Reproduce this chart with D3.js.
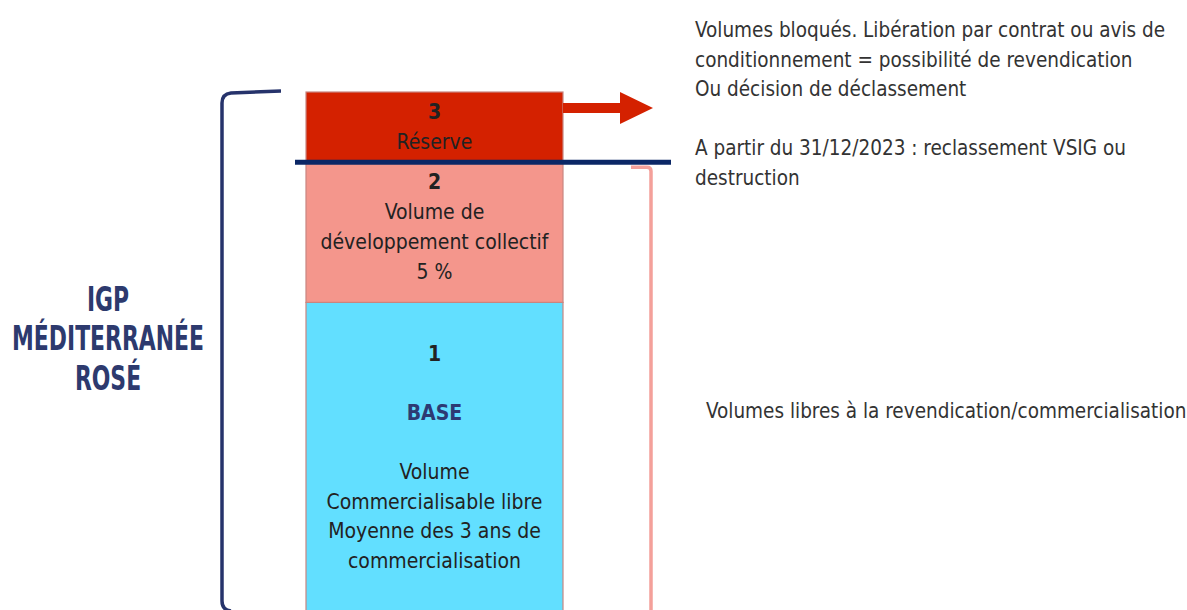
<!DOCTYPE html>
<html>
<head>
<meta charset="utf-8">
<script src="https://cdn.jsdelivr.net/npm/d3@7"></script>
<style>
  body { margin: 0; background: #fff; }
  svg { display: block; }
  text { font-family: "Liberation Sans Narrow", "DejaVu Sans Condensed", Roboto, sans-serif; }
</style>
</head>
<body>
<div id="chart"></div>
<script>
// segments of the stacked bar, bottom to top
const segments = ["Base", "Développement", "Réserve"];
const segmentValues = [310, 140, 70];
const segmentColors = ["#62dfff", "#f4968c", "#d42100"];

const segmentLabels = [
    [{ t: "1", bold: true }, { t: "" }, { t: "BASE", bold: true, navy: true }, { t: "" },
     { t: "Volume" }, { t: "Commercialisable libre" }, { t: "Moyenne des 3 ans de" }, { t: "commercialisation" }],
    [{ t: "2", bold: true }, { t: "Volume de" }, { t: "développement collectif" }, { t: "5 %" }],
    [{ t: "3", bold: true }, { t: "Réserve" }]
];

const titleLines = ["IGP", "MÉDITERRANÉE", "ROSÉ"];
const reserveNotes = ["Volumes bloqués. Libération par contrat ou avis de",
    "conditionnement = possibilité de revendication",
    "Ou décision de déclassement",
    "",
    "A partir du 31/12/2023 : reclassement VSIG ou",
    "destruction"];
const freeNote = "Volumes libres à la revendication/commercialisation";

render();

function render() {
    const width = 1187, height = 610;
    const svg = d3.select("#chart").append("svg")
        .attr("width", width)
        .attr("height", height);

    const stack = [];
    let acc = 0;
    segmentValues.forEach((v, i) => {
        stack.push({ name: segments[i], y0: acc, y1: acc + v, color: segmentColors[i], lines: segmentLabels[i] });
        acc += v;
    });

    const y = d3.scaleLinear().domain([0, acc]).range([613, 92]);
    const x = d3.scaleBand().domain(["bar"]).range([306, 563]).padding(0);
    const bx = x("bar"), bw = x.bandwidth();

    // bar segments
    svg.selectAll("rect.seg")
        .data(stack)
        .join("rect")
        .attr("class", "seg")
        .attr("x", bx)
        .attr("y", d => y(d.y1))
        .attr("width", bw)
        .attr("height", d => y(d.y0) - y(d.y1))
        .attr("fill", d => d.color)
        .attr("stroke", "#c98580")
        .attr("stroke-width", 1.2);

    // labels in segments
    const lineH = 30;
    stack.forEach((d, i) => {
        let top;
        if (i === 0) top = y(d.y1) + 52;
        else top = y(d.y1) + 20;
        const t = svg.append("text")
            .attr("text-anchor", "middle")
            .attr("font-size", 21)
            .attr("fill", "#222");
        d.lines.forEach((l, j) => {
            t.append("tspan")
                .attr("x", bx + bw / 2)
                .attr("y", top + j * (i === 0 ? 29.5 : lineH) + 7)
                .attr("font-weight", l.bold ? "bold" : null)
                .attr("fill", l.navy ? "#2d3a73" : null)
                .text(l.t);
        });
    });

    // navy separation line above development segment
    const sepY = y(stack[1].y1);
    svg.append("line")
        .attr("x1", bx - 11).attr("x2", bx + bw + 108)
        .attr("y1", sepY).attr("y2", sepY)
        .attr("stroke", "#0b2766")
        .attr("stroke-width", 5);

    // left bracket
    const lx = bx - 84, ltop = y(acc);
    svg.append("path")
        .attr("d", `M${bx - 25},${ltop - 1} L${lx + 9},${ltop + 1} Q${lx},${ltop + 2} ${lx},${ltop + 11} L${lx},${height - 9} Q${lx},${height} ${lx + 9},${height + 1}`)
        .attr("fill", "none")
        .attr("stroke", "#26336b")
        .attr("stroke-width", 3.5);

    // right bracket
    const rx = bx + bw + 88, rtop = sepY + 5;
    svg.append("path")
        .attr("d", `M${rx - 20},${rtop} L${rx - 4},${rtop} Q${rx},${rtop} ${rx},${rtop + 4} L${rx},${height + 2}`)
        .attr("fill", "none")
        .attr("stroke", "#f4a09a")
        .attr("stroke-width", 3.5);

    // arrow from reserve
    const ay = y(acc) + 16;
    svg.append("rect")
        .attr("x", bx + bw).attr("y", ay - 5)
        .attr("width", 58).attr("height", 10)
        .attr("fill", "#d42100");
    svg.append("path")
        .attr("d", `M${bx + bw + 57},${ay - 16} L${bx + bw + 90},${ay} L${bx + bw + 57},${ay + 16} Z`)
        .attr("fill", "#d42100");

    // title, squeezed to a condensed width
    const tx = 108;
    const title = svg.append("text")
        .attr("text-anchor", "middle")
        .attr("font-size", 34)
        .attr("font-weight", "bold")
        .attr("fill", "#2d3a6e");
    titleLines.forEach((l, i) => {
        title.append("tspan")
            .attr("x", tx)
            .attr("y", 311 + i * 39.5)
            .text(l);
    });
    const tw = title.node().getBBox().width;
    const k = 192 / tw;
    title.attr("transform", `translate(${tx},0) scale(${k},1) translate(${-tx},0)`);

    // right-hand notes
    const notes = svg.append("text")
        .attr("font-size", 20.5)
        .attr("fill", "#333");
    reserveNotes.forEach((l, i) => {
        notes.append("tspan")
            .attr("x", 695)
            .attr("y", 37 + i * 29.5)
            .text(l);
    });

    svg.append("text")
        .attr("x", 706)
        .attr("y", 418)
        .attr("font-size", 20.5)
        .attr("fill", "#333")
        .text(freeNote);
}
</script>
</body>
</html>
